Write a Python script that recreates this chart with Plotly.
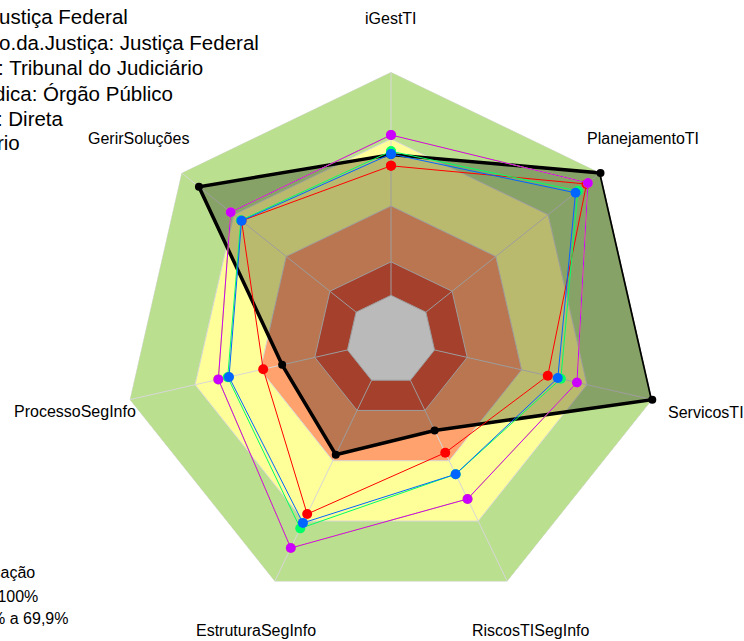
import plotly.graph_objects as go

W, H = 744, 641
OFF = 0

categories = ["iGestTI", "PlanejamentoTI", "ServicosTI", "RiscosTISegInfo",
              "EstruturaSegInfo", "ProcessoSegInfo", "GerirSoluções"]

# series values (fraction 0..1)
org_values = [0.63, 1.00, 1.00, 0.25, 0.37, 0.30, 0.90]
red_values = [0.58, 0.92, 0.52, 0.36, 0.665, 0.387, 0.656]
lime_values = [0.718, 0.928, 0.654, 0.59, 0.834, 0.593, 0.718]
green_values = [0.645, 0.87, 0.58, 0.467, 0.736, 0.55, 0.66]
blue_values = [0.633, 0.857, 0.566, 0.467, 0.709, 0.544, 0.656]
magenta_values = [0.718, 0.928, 0.654, 0.59, 0.834, 0.593, 0.718]

# background maturity bands (upper limits)
band_limits = [1.0, 0.70, 0.40, 0.15, 0.0]
band_colors = ["#BADF8E", "#FFFF99", "#FFA26E", "#E2583E", "#FFFFFF"]

info_lines = ["Segmento: Justiça Federal",
              "Segmento.da.Justiça: Justiça Federal",
              "Tipo: Tribunal do Judiciário",
              "Natureza.Jurídica: Órgão Público",
              "Administração: Direta",
              "Poder: Judiciário"]
legend_lines = ["Classificação", "Aprimorado: 70% a 100%", "Intermediário: 40% a 69,9%"]

FONT = "Liberation Sans, Arial, sans-serif"


def closed(v):
    return list(v) + [v[0]]


def px(x):
    return (x - OFF) / W


def py(y):
    return 1 - (y - OFF) / H


theta = closed(categories)
fig = go.Figure()

for lim, col in zip(band_limits, band_colors):
    fig.add_trace(go.Scatterpolar(
        r=[lim] * (len(categories) + 1), theta=theta, mode="lines",
        fill="toself", fillcolor=col,
        line=dict(color="rgb(215,215,215)", width=1),
        hoverinfo="skip", showlegend=False))

# spokes
for c in categories:
    fig.add_trace(go.Scatterpolar(
        r=[0, 1], theta=[c, c], mode="lines",
        line=dict(color="rgb(215,215,215)", width=1),
        hoverinfo="skip", showlegend=False))

# organisation polygon
fig.add_trace(go.Scatterpolar(
    r=closed(org_values), theta=theta, mode="lines+markers",
    fill="toself", fillcolor="rgba(0,0,0,0.27)",
    line=dict(color="black", width=3.5),
    marker=dict(color="black", size=8),
    cliponaxis=False, showlegend=False))

series = [(red_values, "#FF0000"), (lime_values, "#CCFF00"),
          (green_values, "#00FF66"), (blue_values, "#0066FF"),
          (magenta_values, "#CC00FF")]
for vals, col in series:
    fig.add_trace(go.Scatterpolar(
        r=closed(vals), theta=theta, mode="lines+markers",
        line=dict(color=col, width=1),
        marker=dict(color=col, size=10),
        cliponaxis=False, showlegend=False))

cx, cy, R = 391 - OFF, 340 - OFF, 268
fig.update_layout(
    width=W, height=H,
    margin=dict(l=0, r=0, t=0, b=0),
    paper_bgcolor="white",
    showlegend=False,
    polar=dict(
        domain=dict(x=[(cx - R) / W, (cx + R) / W],
                    y=[(H - cy - R) / H, (H - cy + R) / H]),
        bgcolor="rgba(0,0,0,0)",
        gridshape="linear",
        radialaxis=dict(range=[-0.2, 1], visible=False, showgrid=False),
        angularaxis=dict(rotation=90, direction="clockwise", showgrid=False,
                         showline=False, showticklabels=False, ticks=""),
    ),
)

annotations = []
label_pos = [(391, 18, "center"), (643, 139, "center"), (666, 412, "left"),
             (530, 630, "center"), (256, 630, "center"), (75, 411, "center"),
             (138, 139, "center")]
for c, (x, y, anc) in zip(categories, label_pos):
    annotations.append(dict(text=c, x=px(x), y=py(y), xref="paper", yref="paper",
                            xanchor=anc, yanchor="middle", showarrow=False,
                            font=dict(family=FONT, size=16, color="black")))

info_pos = [(130, 17), (261, 43), (205, 68), (175, 93), (66, 118), (22, 143)]
for t, (x, y) in zip(info_lines, info_pos):
    annotations.append(dict(text=t, x=px(x), y=py(y), xref="paper", yref="paper",
                            xanchor="right", yanchor="middle", showarrow=False,
                            font=dict(family=FONT, size=20.5, color="black")))

legend_pos = [(37, 572), (40, 596), (70, 618)]
for t, (x, y) in zip(legend_lines, legend_pos):
    annotations.append(dict(text=t, x=px(x), y=py(y), xref="paper", yref="paper",
                            xanchor="right", yanchor="middle", showarrow=False,
                            font=dict(family=FONT, size=16, color="black")))

fig.update_layout(annotations=annotations)
fig.write_html("out.html",
               config={"displayModeBar": False},
               post_script="document.body.style.margin='0';"
                           "document.body.style.overflow='hidden';")
